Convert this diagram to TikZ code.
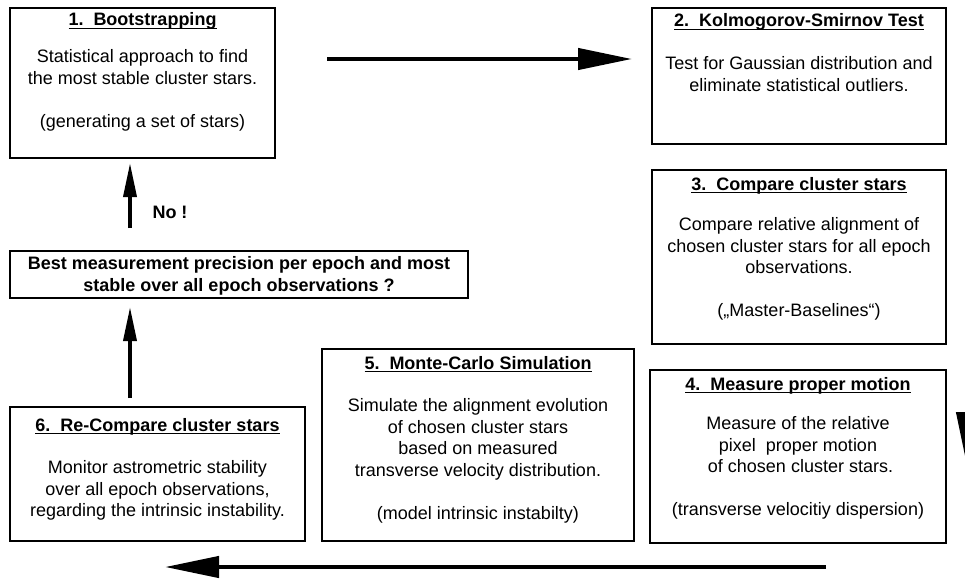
\documentclass[tikz,border=0pt]{standalone}
\usepackage{fontspec}
\setmainfont{Liberation Sans}
\usetikzlibrary{arrows.meta}
\newcommand\ulx[1]{\setbox0\hbox{#1}\rlap{\rule[-3.2pt]{\wd0}{1.4pt}}\box0}
\tikzset{
  box/.style={draw, line width=1.8pt, inner sep=0pt, outer sep=0pt},
  ttl/.style={font=\fontsize{18}{21.5}\selectfont\bfseries, anchor=base, inner sep=0pt},
  body/.style={font=\fontsize{18}{21.5}\selectfont, align=center, anchor=north, inner sep=0pt},
  bigarrow/.style={line width=4.3pt, -{Triangle[length=54pt,width=21pt]}},
  uparrow/.style={line width=3.6pt, -{Triangle[length=34pt,width=13pt]}},
}
\begin{document}
\begin{tikzpicture}[x=1pt,y=-1pt]
\useasboundingbox (0,0) rectangle (965,578);
% boxes
\node[box, minimum width=265pt, minimum height=150pt] (b1) at (142.5,83) {};
\node[box, minimum width=294pt, minimum height=136pt] (b2) at (799,76) {};
\node[box, minimum width=294pt, minimum height=174pt] (b3) at (799,257) {};
\node[box, minimum width=296pt, minimum height=173pt] (b4) at (798,456.5) {};
\node[box, minimum width=312pt, minimum height=192pt] (b5) at (478,445) {};
\node[box, minimum width=295pt, minimum height=134pt] (b6) at (157.5,474) {};
\node[box, minimum width=458pt, minimum height=47pt] (q) at (239,274.5) {};
% texts
\node[ttl] (t1) at (142.5,26) {\ulx{1.\ \ Bootstrapping}};
\node[body] (x1) at (142.5,49.5) {Statistical approach to find\\ the most stable cluster stars.\\[21.5pt](generating a set of stars)};
\node[ttl] (t2) at (799,27) {\ulx{2.\ \ Kolmogorov-Smirnov Test}};
\node[body] (x2) at (799,56.5) {Test for Gaussian distribution and\\eliminate statistical outliers.};
\node[ttl] (t3) at (799,190) {\ulx{3.\ \ Compare cluster stars}};
\node[body] (x3) at (799,217.5) {Compare relative alignment of\\chosen cluster stars for all epoch\\observations.\\[21.5pt](„Master-Baselines“)};
\node[ttl] (t4) at (798,390) {\ulx{4.\ \ Measure proper motion}};
\node[body] (x4) at (798,416.5) {Measure of the relative\\pixel\ \ proper motion\\\ of chosen cluster stars.\\[21.5pt](transverse velocitiy dispersion)};
\node[ttl] (t5) at (478,369) {\ulx{5.\ \ Monte-Carlo Simulation}};
\node[body] (x5) at (478,398.5) {Simulate the alignment evolution\\of chosen cluster stars\\based on measured\\transverse velocity distribution.\\[21.5pt](model intrinsic instabilty)};
\node[ttl] (t6) at (157.5,431) {\ulx{6.\ \ Re-Compare cluster stars}};
\node[body] (x6) at (157.5,460.5) {Monitor astrometric stability\\over all epoch observations,\\regarding the intrinsic instability.};
\node[body, font=\fontsize{18}{21.5}\selectfont\bfseries] (xq) at (239,256.5) {Best measurement precision per epoch and most\\stable over all epoch observations ?};
\node[ttl] (no) at (170,218) {No !};
% arrows
\coordinate (a1s) at (327,59);
\coordinate (a1e) at (632,59);
\draw[bigarrow] (a1s) -- (a1e);
\coordinate (a2s) at (130,228);
\coordinate (a2e) at (130,163);
\draw[uparrow] (a2s) -- (a2e);
\coordinate (a3s) at (130,398);
\coordinate (a3e) at (130,307);
\draw[uparrow] (a3s) -- (a3e);
\coordinate (a4s) at (826,567);
\coordinate (a4e) at (165,567);
\draw[bigarrow] (a4s) -- (a4e);
\begin{scope}
\clip (0,0) rectangle (965,578);
\coordinate (a5s) at (967,300);
\coordinate (a5e) at (967,466);
\draw[bigarrow] (a5s) -- (a5e);
\end{scope}
\end{tikzpicture}
\end{document}
